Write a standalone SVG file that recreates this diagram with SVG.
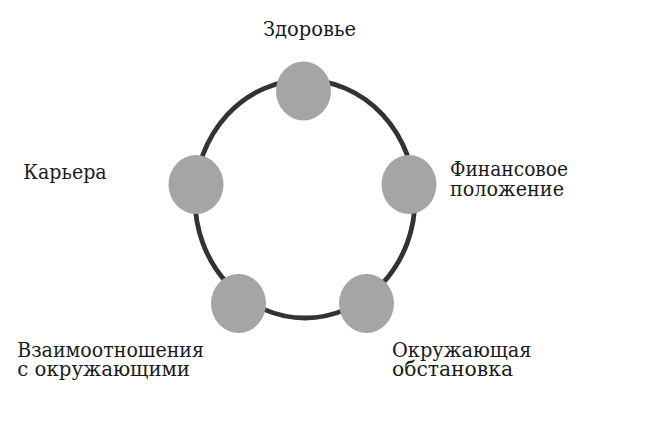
<svg xmlns="http://www.w3.org/2000/svg" width="653" height="431" viewBox="0 0 653 431">
<style>
.ring{fill:none;stroke:#333333;stroke-width:4.8}
.node{fill:#a5a5a5;stroke:none}
.lbl{font-family:'DejaVu Serif Condensed','DejaVu Serif',serif;font-stretch:condensed;font-size:20px;fill:#1a1a1a}
</style>
<rect width="653" height="431" fill="#ffffff"/>
<g id="connectors">
<ellipse class="ring" cx="305" cy="199" rx="110" ry="119"/>
</g>
<g id="node-health">
<ellipse class="node" cx="303.5" cy="91" rx="27.5" ry="29.5"/>
<text class="lbl" x="263" y="36" textLength="93" lengthAdjust="spacingAndGlyphs">Здоровье</text>
</g>
<g id="node-finance">
<ellipse class="node" cx="409" cy="184.5" rx="27.5" ry="29.5"/>
<text class="lbl" x="450" y="176" textLength="118" lengthAdjust="spacingAndGlyphs">Финансовое</text>
<text class="lbl" x="450" y="195.5" textLength="114" lengthAdjust="spacingAndGlyphs">положение</text>
</g>
<g id="node-environment">
<ellipse class="node" cx="366.5" cy="303.5" rx="27.5" ry="29.5"/>
<text class="lbl" x="392" y="356.5" textLength="139.5" lengthAdjust="spacingAndGlyphs">Окружающая</text>
<text class="lbl" x="392" y="376" textLength="121" lengthAdjust="spacingAndGlyphs">обстановка</text>
</g>
<g id="node-relations">
<ellipse class="node" cx="238.5" cy="303.5" rx="27.5" ry="29.5"/>
<text class="lbl" x="17.3" y="356.5" textLength="186.7" lengthAdjust="spacingAndGlyphs">Взаимоотношения</text>
<text class="lbl" x="17.3" y="376" textLength="172.7" lengthAdjust="spacingAndGlyphs">с окружающими</text>
</g>
<g id="node-career">
<ellipse class="node" cx="196" cy="184.5" rx="27.5" ry="29.5"/>
<text class="lbl" x="23.3" y="179.3" textLength="83.4" lengthAdjust="spacingAndGlyphs">Карьера</text>
</g>
</svg>
